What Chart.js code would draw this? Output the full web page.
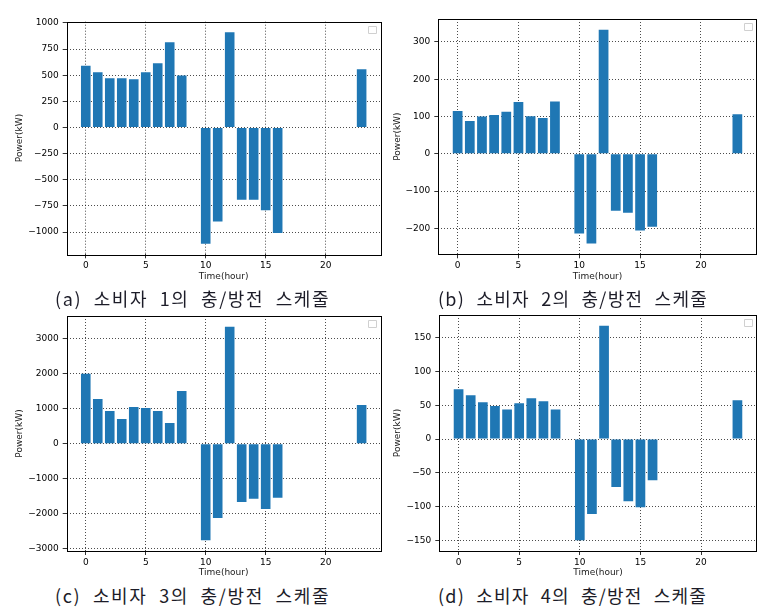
<!DOCTYPE html>
<html>
<head>
<meta charset="utf-8">
<script src="https://cdn.jsdelivr.net/npm/chart.js@4.4.0/dist/chart.umd.min.js"></script>
<style>
body { margin: 0; background: #fff; width: 771px; height: 615px; position: relative; overflow: hidden; }
canvas { position: absolute; }
.cap { position: absolute; font-family: "Noto Sans CJK KR", sans-serif; font-size: 18px; line-height: 18px; white-space: pre; color: #1c1c28; word-spacing: 6px; }
</style>
</head>
<body>
<canvas id="c1"></canvas>
<canvas id="c2"></canvas>
<canvas id="c3"></canvas>
<canvas id="c4"></canvas>
<div class="cap" id="cap1"></div>
<div class="cap" id="cap2"></div>
<div class="cap" id="cap3"></div>
<div class="cap" id="cap4"></div>
<script>
// 시간 (0~23시)
var hours = [0, 1, 2, 3, 4, 5, 6, 7, 8, 9, 10, 11, 12, 13, 14, 15, 16, 17, 18, 19, 20, 21, 22, 23];
// 소비자별 충/방전 전력 (kW)
var power1 = [590, 528, 471, 471, 462, 528, 614, 815, 497, 0, -1111, -898, 911, -691, -691, -790, -1009, 0, 0, 0, 0, 0, 0, 557];
var power2 = [115, 88, 100, 104, 113, 139, 101, 96, 140, 0, -214, -241, 333, -153, -158, -206, -196, 0, 0, 0, 0, 0, 0, 106];
var power3 = [2000, 1280, 936, 707, 1050, 1022, 936, 592, 1509, 0, -2760, -2120, 3343, -1662, -1576, -1862, -1547, 0, 0, 0, 0, 0, 0, 1108];
var power4 = [74, 65, 54.5, 49, 44, 53, 60.5, 56, 44, 0, -150, -111, 168, -71, -92, -101, -61, 0, 0, 0, -0.5, 0, 0, 57.5];
// 눈금
var xTicks = [0, 5, 10, 15, 20];
var yTicks1 = [-1000, -750, -500, -250, 0, 250, 500, 750, 1000];
var yTicks2 = [-200, -100, 0, 100, 200, 300];
var yTicks3 = [-3000, -2000, -1000, 0, 1000, 2000, 3000];
var yTicks4 = [-150, -100, -50, 0, 50, 100, 150];
var captions = ['(a) 소비자 1의 충/방전 스케줄', '(b) 소비자 2의 충/방전 스케줄', '(c) 소비자 3의 충/방전 스케줄', '(d) 소비자 4의 충/방전 스케줄'];

Chart.defaults.font.family = 'DejaVu Sans';
Chart.defaults.font.size = 9;
Chart.defaults.color = '#000';

// 테두리 + 빈 범례 박스
var frame = {
    id: 'frame',
    afterDraw: function (chart) {
        var a = chart.chartArea;
        var ctx = chart.ctx;
        ctx.save();
        ctx.strokeStyle = '#000';
        ctx.lineWidth = 1;
        ctx.strokeRect(Math.round(a.left) + 0.5, Math.round(a.top) + 0.5, Math.round(a.right - a.left), Math.round(a.bottom - a.top));
        ctx.strokeStyle = '#d0d0d0';
        ctx.fillStyle = '#fff';
        ctx.beginPath();
        ctx.rect(Math.round(a.right) - 12.5, Math.round(a.top) + 4.5, 8, 7);
        ctx.fill();
        ctx.stroke();
        ctx.restore();
    }
};

function fmt(v) {
    return v < 0 ? '\u2212' + Math.abs(v) : String(v);
}

function draw(p, values, yTicks, caption) {
    var cv = document.getElementById(p.id);
    cv.width = p.w;
    cv.height = p.h;
    cv.style.left = p.x + 'px';
    cv.style.top = p.y + 'px';
    cv.style.width = p.w + 'px';
    cv.style.height = p.h + 'px';

    var lo = Math.min(0, Math.min.apply(null, values));
    var hi = Math.max(0, Math.max.apply(null, values));
    var m = (hi - lo) * 0.05;
    var xm = (hours[hours.length - 1] + 0.4 - (hours[0] - 0.4)) * 0.05;

    var pts = hours.map(function (h, i) { return { x: h, y: values[i] }; });
    var yAxisW = p.pl - p.x;
    var xAxisH = p.y + p.h - p.pb;
    var gridOpts = { color: 'rgba(0,0,0,0.7)', lineWidth: 1, offset: false, drawTicks: true, tickLength: 4, tickColor: '#333', tickBorderDash: [], tickWidth: 1 };
    var borderOpts = { display: false, dash: [1, 2] };

    new Chart(cv, {
        type: 'bar',
        data: {
            datasets: [{
                data: pts,
                backgroundColor: '#1f77b4',
                borderWidth: 0,
                barPercentage: 0.8,
                categoryPercentage: 1
            }]
        },
        options: {
            responsive: false,
            animation: false,
            layout: { padding: { left: 0, top: p.pt - p.y, right: p.x + p.w - p.pr, bottom: 0 } },
            plugins: { legend: { display: false }, tooltip: { enabled: false } },
            scales: {
                x: {
                    type: 'linear',
                    offset: false,
                    min: hours[0] - 0.4 - xm,
                    max: hours[hours.length - 1] + 0.4 + xm,
                    afterBuildTicks: function (s) { s.ticks = xTicks.map(function (v) { return { value: v }; }); },
                    afterFit: function (s) { s.height = xAxisH; },
                    ticks: { padding: 2, maxRotation: 0, color: '#000' },
                    grid: gridOpts,
                    border: borderOpts,
                    title: { display: true, text: 'Time(hour)', color: '#222', padding: { top: 0, bottom: xAxisH - 22 - 5.4 } }
                },
                y: {
                    min: lo - m,
                    max: hi + m,
                    afterBuildTicks: function (s) { s.ticks = yTicks.map(function (v) { return { value: v }; }); },
                    afterFit: function (s) { s.width = yAxisW; },
                    ticks: { padding: 4, color: '#000', callback: fmt },
                    grid: gridOpts,
                    border: borderOpts,
                    title: { display: true, text: 'Power(kW)', color: '#222', padding: { top: p.ytx - p.x - 5.4, bottom: 0 } }
                }
            }
        },
        plugins: [frame]
    });

    var cap = document.getElementById(p.cap);
    cap.textContent = caption;
    cap.style.left = p.cx + 'px';
    cap.style.top = p.cy + 'px';
    var n = caption.length;
    var extra = (p.cw - cap.scrollWidth) / n;
    cap.style.letterSpacing = extra + 'px';
}

draw({ id: 'c1', cap: 'cap1', x: 0, y: 0, w: 385, h: 285, pl: 66.7, pt: 21.7, pr: 380.7, pb: 254.3, ytx: 20, cx: 55, cy: 289, cw: 275 }, power1, yTicks1, captions[0]);
draw({ id: 'c2', cap: 'cap2', x: 385, y: 0, w: 386, h: 285, pl: 438.3, pt: 19, pr: 756.7, pb: 254.3, ytx: 397.7, cx: 438, cy: 289, cw: 270 }, power2, yTicks2, captions[1]);
draw({ id: 'c3', cap: 'cap3', x: 0, y: 295, w: 385, h: 286, pl: 66.7, pt: 316, pr: 380.7, pb: 551, ytx: 20, cx: 55, cy: 586, cw: 275 }, power3, yTicks3, captions[2]);
draw({ id: 'c4', cap: 'cap4', x: 385, y: 295, w: 386, h: 286, pl: 439.3, pt: 315, pr: 756.7, pb: 551, ytx: 397.7, cx: 438, cy: 586, cw: 269 }, power4, yTicks4, captions[3]);
</script>
</body>
</html>
